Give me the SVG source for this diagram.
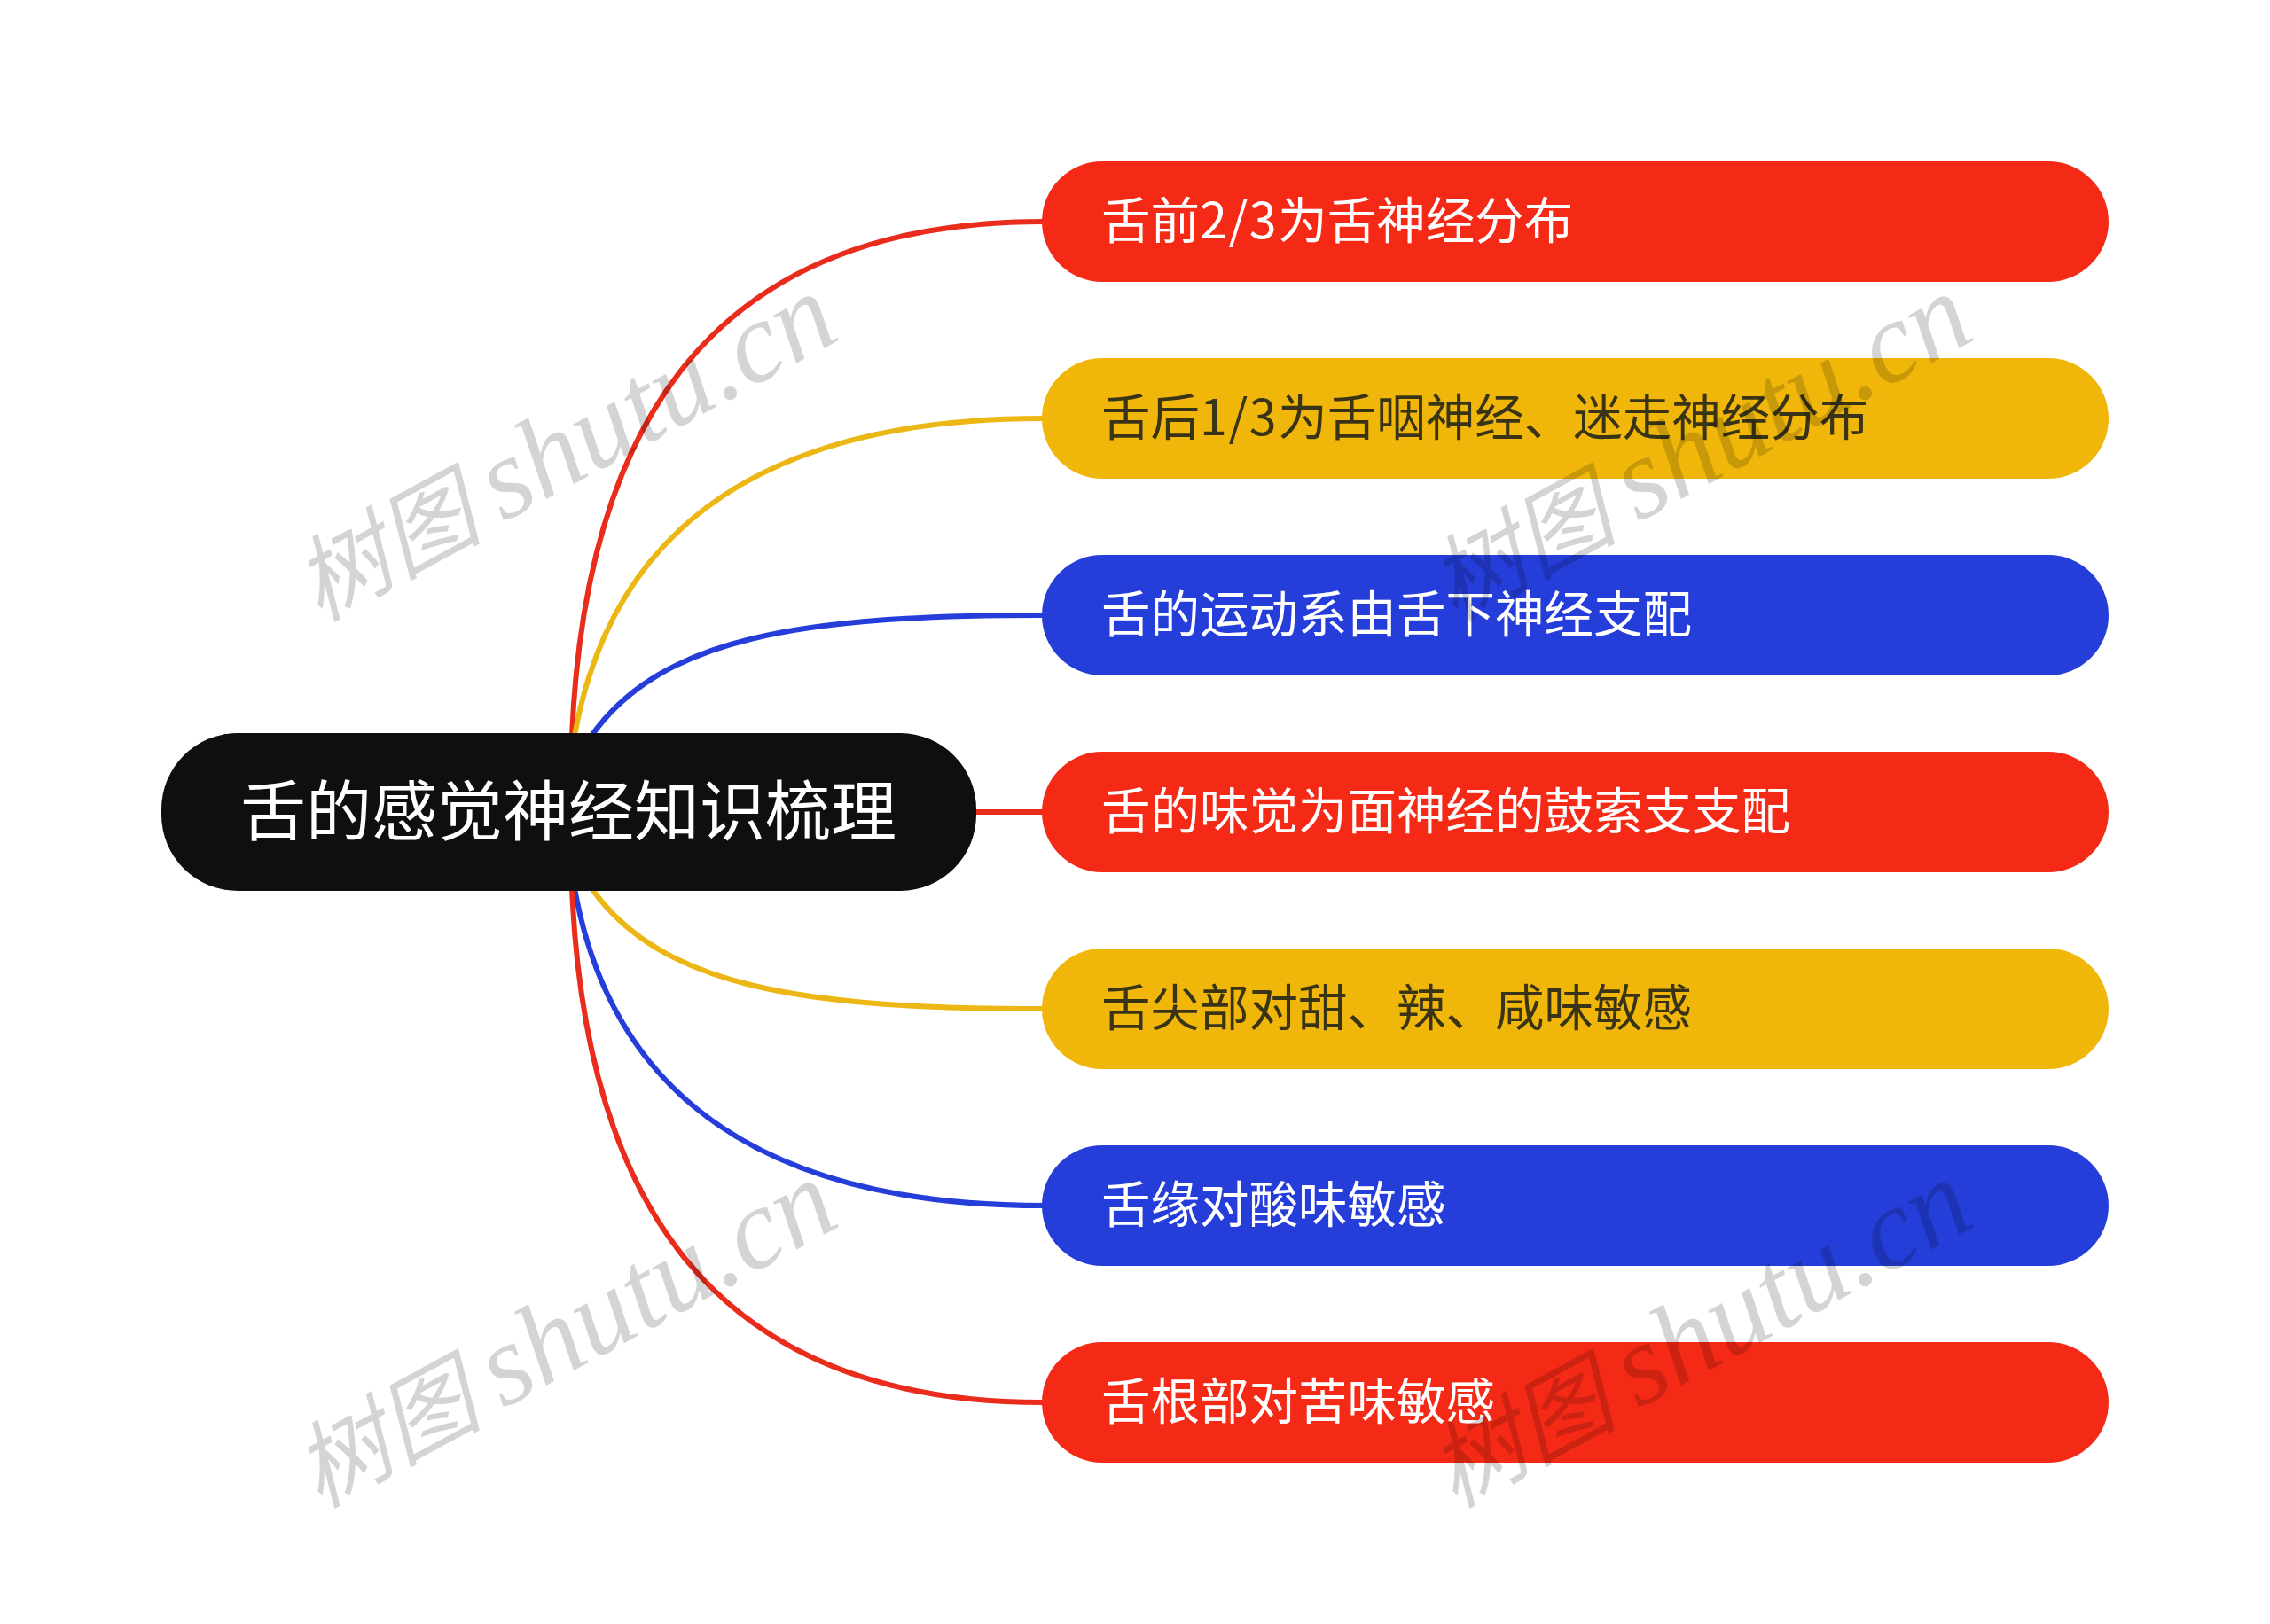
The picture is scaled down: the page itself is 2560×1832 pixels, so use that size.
<svg xmlns="http://www.w3.org/2000/svg" width="2560" height="1832" viewBox="0 0 2560 1832">
<style>
.t{font-family:"Noto Sans CJK SC","Noto Sans",sans-serif;font-size:55.5px;fill:#fff}
.d{fill:#3a3416}
.r{fill:#f42a16}.y{fill:#f0b70a}.b{fill:#253ed9}
.c{fill:none;stroke-width:6}
.wm{font-family:"Noto Sans CJK SC",serif;font-style:italic;font-size:106px;fill:#000;fill-opacity:.17}
.wm .l{font-family:"Liberation Serif",serif;font-size:130px}
.n{letter-spacing:1.6px}
</style>
<rect width="2560" height="1832" fill="#fff"/>
<g id="connectors">
<path class="c" stroke="#e92c1b" d="M645 830C660 475 805 250 1176 250"/>
<path class="c" stroke="#ecb714" d="M648 830C680 650 800 472 1176 472"/>
<path class="c" stroke="#253ed9" d="M667 830C745 720 900 694 1176 694"/>
<path class="c" stroke="#e92c1b" d="M1095 916H1176"/>
<path class="c" stroke="#ecb714" d="M667 1002C745 1112 900 1138 1176 1138"/>
<path class="c" stroke="#253ed9" d="M648 1002C680 1182 800 1360 1176 1360"/>
<path class="c" stroke="#e92c1b" d="M645 1002C660 1357 805 1582 1176 1582"/>
</g>
<g id="root"><rect x="182" y="827" width="919" height="178" rx="86" fill="#0f0f0f"/><text x="271" y="942" class="t" style="font-size:74px">舌的感觉神经知识梳理</text></g>
<g id="n1"><rect class="r" x="1175" y="182" width="1203" height="136" rx="68"/><text class="t" x="1242" y="269">舌前<tspan class="n">2/3</tspan>为舌神经分布</text></g>
<g id="n2"><rect class="y" x="1175" y="404" width="1203" height="136" rx="68"/><text class="t d" x="1242" y="491">舌后<tspan class="n">1/3</tspan>为舌咽神经、迷走神经分布</text></g>
<g id="n3"><rect class="b" x="1175" y="626" width="1203" height="136" rx="68"/><text class="t" x="1242" y="713">舌的运动系由舌下神经支配</text></g>
<g id="n4"><rect class="r" x="1175" y="848" width="1203" height="136" rx="68"/><text class="t" x="1242" y="935">舌的味觉为面神经的鼓索支支配</text></g>
<g id="n5"><rect class="y" x="1175" y="1070" width="1203" height="136" rx="68"/><text class="t d" x="1242" y="1157">舌尖部对甜、辣、咸味敏感</text></g>
<g id="n6"><rect class="b" x="1175" y="1292" width="1203" height="136" rx="68"/><text class="t" x="1242" y="1379">舌缘对酸味敏感</text></g>
<g id="n7"><rect class="r" x="1175" y="1514" width="1203" height="136" rx="68"/><text class="t" x="1242" y="1601">舌根部对苦味敏感</text></g>
<g id="watermarks">
<text class="wm" transform="translate(360 702) rotate(-28.5)">树图 <tspan class="l">shutu.cn</tspan></text>
<text class="wm" transform="translate(1640 702) rotate(-28.5)">树图 <tspan class="l">shutu.cn</tspan></text>
<text class="wm" transform="translate(360 1702) rotate(-28.5)">树图 <tspan class="l">shutu.cn</tspan></text>
<text class="wm" transform="translate(1640 1702) rotate(-28.5)">树图 <tspan class="l">shutu.cn</tspan></text>
</g>
</svg>
